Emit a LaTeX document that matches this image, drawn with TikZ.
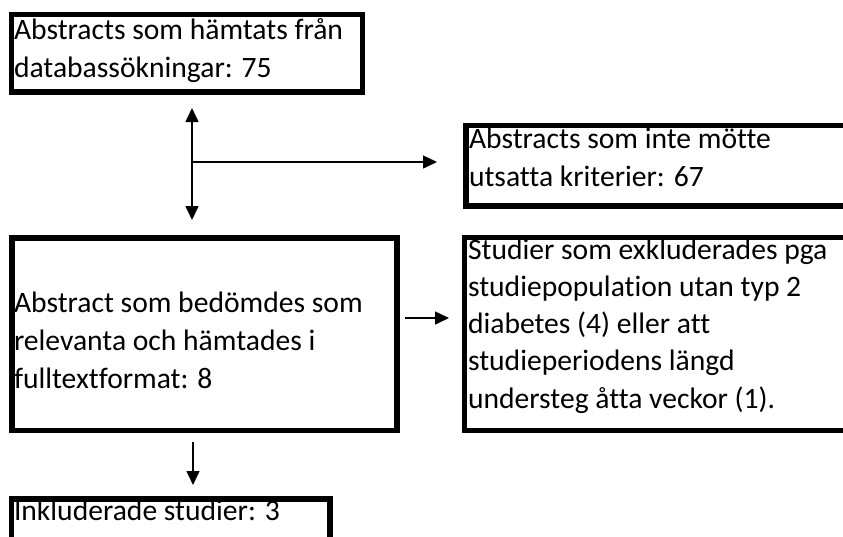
\documentclass[tikz,border=0pt]{standalone}
\usepackage{fontspec}
\setmainfont[Ligatures={NoCommon,NoRequired,NoContextual}]{Carlito}
\usetikzlibrary{arrows.meta,calc}
\begin{document}
\begin{tikzpicture}[x=1pt,y=-1pt,
  box/.style={draw=black,line width=5.5pt,outer sep=0pt,inner sep=0pt,anchor=north west,rectangle},
  txt/.style={anchor=base west,inner sep=0pt,outer sep=0pt,font=\fontsize{29.6}{34}\selectfont},
  conn/.style={line width=1.5pt,-{Triangle[length=14pt,width=13pt]}},
  dconn/.style={line width=1.5pt,{Triangle[length=14pt,width=13pt]}-{Triangle[length=14pt,width=13pt]}}]
\useasboundingbox (0,0) rectangle (843,536);
% boxes
\node[box,minimum width=351pt,minimum height=77.5pt] (b1) at (11.5,14.5) {};
\node[box,minimum width=400pt,minimum height=80.5pt] (b2) at (466,125.5) {};
\node[box,minimum width=385pt,minimum height=192.5pt] (b3) at (12,238) {};
\node[box,minimum width=400pt,minimum height=193pt] (b4) at (464.5,237.5) {};
\node[box,minimum width=318.5pt,minimum height=60pt] (b5) at (11.5,499) {};
% texts
\node[txt] (t1a) at (14,39) {Abstracts som hämtats från};
\node[txt] (t1b) at (14,77) {databassökningar: 75};
\node[txt] (t2a) at (469,148) {Abstracts som inte mötte};
\node[txt] (t2b) at (469,186) {utsatta kriterier: 67};
\node[txt] (t3a) at (14,312) {Abstract som bedömdes som};
\node[txt] (t3b) at (14,350) {relevanta och hämtades i};
\node[txt] (t3c) at (14,388) {fulltextformat: 8};
\node[txt] (t4a) at (468,259) {Studier som exkluderades pga};
\node[txt] (t4b) at (468,296) {studiepopulation utan typ 2};
\node[txt] (t4c) at (468,333) {diabetes (4) eller att};
\node[txt] (t4d) at (468,370) {studieperiodens längd};
\node[txt] (t4e) at (468,408) {understeg åtta veckor (1).};
\node[txt] (t5a) at (14,520) {Inkluderade studier: 3};
% connectors
\coordinate (j) at (192,162);
\draw[dconn,shorten <=16pt,shorten >=18pt] (b1.south -| j) -- (b3.north -| j);
\draw[conn,shorten >=29pt] (j) -- (j -| b2.west);
\draw[conn,shorten <=8pt,shorten >=15.5pt] (b3.east |- 0,318) -- (b4.west |- 0,318);
\draw[conn,shorten <=11.5pt,shorten >=14pt] (b3.south -| 193,0) -- (b5.north -| 193,0);
\end{tikzpicture}
\end{document}
